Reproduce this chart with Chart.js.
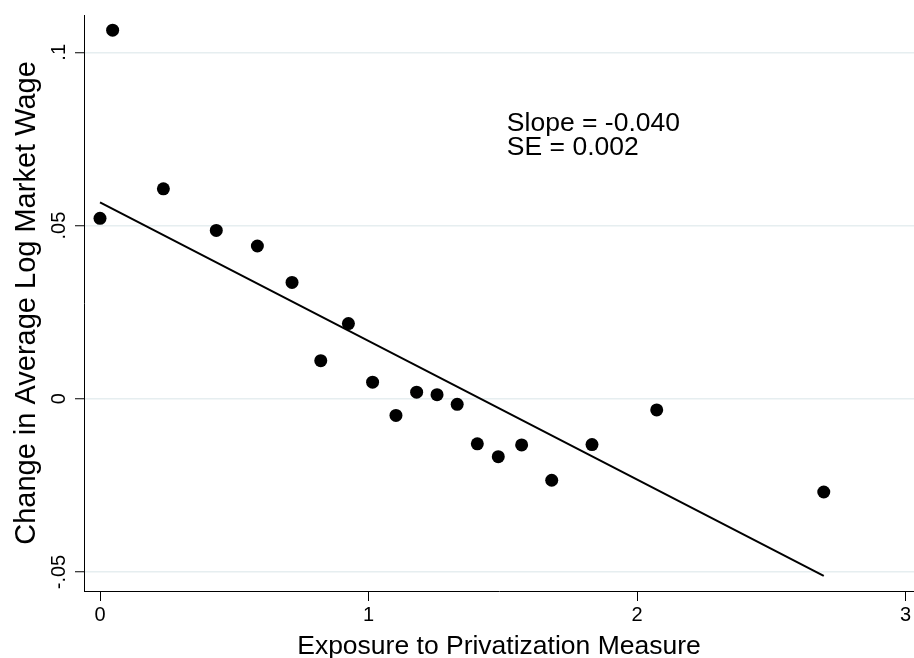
<!DOCTYPE html>
<html>
<head>
<meta charset="utf-8">
<title>Exposure to Privatization and Market Wages</title>
<script src="https://cdn.jsdelivr.net/npm/chart.js@4/dist/chart.umd.min.js"></script>
<style>
  html, body { margin: 0; padding: 0; background: #fff; }
  #wrap { width: 914px; height: 658px; }
</style>
</head>
<body>
<div id="wrap"><canvas id="binChart" width="914" height="658"></canvas></div>
<script>
'use strict';

const $ = id => document.getElementById(id);

// ── Data ─────────────────────────────────────────────────────────────────────

// binned means: exposure (x) vs change in average log market wage (y)
const binExposure = [
  0.000, 0.047, 0.236, 0.433, 0.586, 0.715, 0.822, 0.925, 1.015, 1.102,
  1.179, 1.255, 1.330, 1.405, 1.483, 1.570, 1.682, 1.832, 2.073, 2.695,
];
const binWageChange = [
  0.0521, 0.1064, 0.0606, 0.0486, 0.0441, 0.0336, 0.0110, 0.0217, 0.0048, -0.0048,
  0.0019, 0.0012, -0.0016, -0.0130, -0.0167, -0.0133, -0.0235, -0.0132, -0.0032, -0.0269,
];

// linear fit
const fitIntercept = 0.0567;
const fitSlope     = -0.040;
const fitSE        = 0.002;

const xTicks      = [0, 1, 2, 3];
const xTickLabels = ['0', '1', '2', '3'];
const yTicks      = [-0.05, 0, 0.05, 0.1];
const yTickLabels = ['-.05', '0', '.05', '.1'];

const xTitle = 'Exposure to Privatization Measure';
const yTitle = 'Change in Average Log Market Wage';
const noteLines = [`Slope = ${fitSlope.toFixed(3)}`, `SE = ${fitSE.toFixed(3)}`];
const noteAt    = [1.515, 0.0773];

// ── Style ────────────────────────────────────────────────────────────────────

const FONT        = '"Liberation Sans", Arial, Helvetica, sans-serif';
const TICK_SIZE   = 20;
const XTITLE_SIZE = 26.5;
const YTITLE_SIZE = 29;
const NOTE_SIZE   = 26.5;
const GRID        = '#e6eef0';

// ── Plugins ──────────────────────────────────────────────────────────────────

// Stata draws the y tick labels turned on their side, plus the slope note
const sideLabels = {
  id: 'sideLabels',
  afterDraw(chart) {
    const { ctx, scales: { x, y } } = chart;
    ctx.save();
    ctx.fillStyle = '#000';
    ctx.font = `${TICK_SIZE}px ${FONT}`;
    ctx.textAlign = 'center';
    ctx.textBaseline = 'alphabetic';
    yTicks.forEach((v, i) => {
      ctx.save();
      ctx.translate(y.right - 19, y.getPixelForValue(v));
      ctx.rotate(-Math.PI / 2);
      ctx.fillText(yTickLabels[i], 0, 0);
      ctx.restore();
    });

    ctx.font = `${NOTE_SIZE}px ${FONT}`;
    ctx.textAlign = 'left';
    const nx = x.getPixelForValue(noteAt[0]);
    const ny = y.getPixelForValue(noteAt[1]);
    noteLines.forEach((line, i) => ctx.fillText(line, nx, ny + i * 24));
    ctx.restore();
  },
};

// ── Chart ────────────────────────────────────────────────────────────────────

const points = binExposure.map((x, i) => ({ x, y: binWageChange[i] }));
const xLo = Math.min(...binExposure);
const xHi = Math.max(...binExposure);
const fitLine = [xLo, xHi].map(x => ({ x, y: fitIntercept + fitSlope * x }));

new Chart($('binChart').getContext('2d'), {
  type: 'scatter',
  data: {
    datasets: [
      {
        label: 'Binned means',
        data: points,
        backgroundColor: '#000',
        borderWidth: 0,
        pointRadius: 6.5,
        pointHoverRadius: 6.5,
        order: 1,
      },
      {
        type: 'line',
        label: 'Linear fit',
        data: fitLine,
        borderColor: '#000',
        borderWidth: 2,
        pointRadius: 0,
        fill: false,
        order: 2,
      },
    ],
  },
  options: {
    responsive: false,
    animation: false,
    // axis runs to the right edge; the last x label may overhang
    layout: { autoPadding: false, padding: { top: 15, right: 0, bottom: 0, left: 0 } },
    plugins: {
      legend: { display: false },
      tooltip: { enabled: false },
    },
    scales: {
      x: {
        type: 'linear',
        min: -0.0596,
        max: 3.031,
        afterBuildTicks: scale => { scale.ticks = xTicks.map(value => ({ value })); },
        afterFit: scale => { scale.height = 67; },
        border: { color: '#000', width: 1 },
        grid: {
          drawOnChartArea: false,
          drawTicks: true,
          tickLength: 10,
          tickColor: '#000',
          tickWidth: 1,
        },
        ticks: {
          color: '#000',
          padding: 2,
          font: { family: FONT, size: TICK_SIZE },
          maxRotation: 0,
          callback: v => xTickLabels[xTicks.indexOf(v)] ?? '',
        },
        title: {
          display: true,
          text: xTitle,
          color: '#000',
          font: { family: FONT, size: XTITLE_SIZE, lineHeight: 0.85 },
          padding: { top: 0, bottom: 0 },
        },
      },
      y: {
        type: 'linear',
        min: -0.05547,
        max: 0.11077,
        afterBuildTicks: scale => { scale.ticks = yTicks.map(value => ({ value })); },
        afterFit: scale => { scale.width = 84; },
        border: { color: '#000', width: 1 },
        grid: {
          color: GRID,
          lineWidth: 1.5,
          drawTicks: true,
          tickLength: 9,
          tickColor: '#000',
          tickWidth: 1,
        },
        ticks: { display: false },
        title: {
          display: true,
          text: yTitle,
          color: '#000',
          font: { family: FONT, size: YTITLE_SIZE },
          padding: { top: 9.5, bottom: 0 },
        },
      },
    },
  },
  plugins: [sideLabels],
});
</script>
</body>
</html>
